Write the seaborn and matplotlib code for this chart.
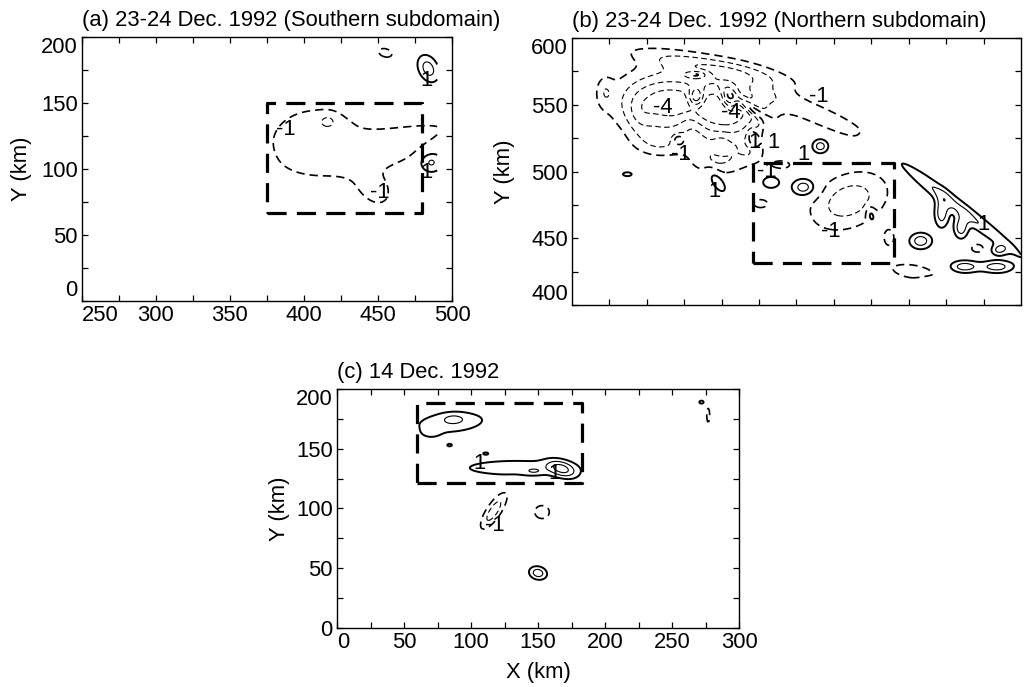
import numpy as np
import matplotlib
matplotlib.use("Agg")
import matplotlib.pyplot as plt
import seaborn as sns

sns.set_theme(style="ticks")
plt.rcParams['font.family'] = ['Liberation Sans', 'DejaVu Sans']
for k in ['text.color', 'axes.labelcolor', 'xtick.color', 'ytick.color', 'axes.edgecolor']:
    plt.rcParams[k] = 'black'

# ---------------- data ----------------
titles = ["(a) 23-24 Dec. 1992 (Southern subdomain)",
          "(b) 23-24 Dec. 1992 (Northern subdomain)",
          "(c) 14 Dec. 1992"]
neg_levels = [-4, -3, -2, -1]
pos_levels = [1, 2, 3, 4]

# panel (a) field features: centre x, centre y, width x, width y, angle, amplitude
a_cx = [409, 416, 465, 460, 448, 455, 484, 486]
a_cy = [120, 136, 124, 110, 85, 188, 176, 105]
a_sx = [33, 4, 30, 18, 8, 6, 5, 6]
a_sy = [27, 3.5, 6, 5, 12, 4, 8, 6]
a_an = [0, 0, 14, 20, 30, -20, 20, 0]
a_am = [-1.5, -1.2, -1.4, -1.3, -1.3, -1.3, 2.5, 2.2]
a_xlim = (250, 500)
a_ylim = (0, 200)
a_data_x = (250, 490)
a_box_x = [375, 480, 480, 375, 375]
a_box_y = [67, 67, 150, 150, 67]
a_lab_x = [388, 451, 483, 483]
a_lab_y = [130, 82, 167, 97]
a_lab_t = ["-1", "-1", "1", "1"]

# panel (b)
b_cx = [62, 106, 95, 170, 58, 98, 185, 126, 228, 212, 271, 22,
        45, 120, 140, 80, 100,
        83, 105, 83, 119, 132, 121, 71, 97, 37, 133, 155, 166, 200,
        256, 247, 260, 233, 285, 262, 284, 239]
b_cy = [552, 545, 578, 540, 522, 508, 478, 476, 425, 450, 442.5, 560,
        540, 515, 505, 535, 520,
        556, 555, 572.5, 548, 527, 525, 524, 493, 498, 492, 488, 519, 467,
        475, 469, 458, 448, 441, 428.7, 428.7, 418]
b_sx = [22, 18, 40, 35, 12, 14, 20, 6, 14, 4, 4, 4,
        6, 6, 8, 5, 4,
        3.5, 3.5, 5, 10, 2.5, 2.5, 3, 3, 3, 5, 6, 4, 2,
        46, 3.5, 3.5, 5.5, 4, 7, 8, 5]
b_sy = [16, 17, 6, 6, 8, 8, 14, 4, 5, 7, 3, 8,
        10, 6, 4, 8, 6,
        5, 6, 2, 2.5, 7, 5, 3, 7, 1.5, 4, 5, 4, 4,
        4, 8, 6, 4.5, 3, 3.5, 3.5, 1.8]
b_an = [0, 0, -12, -25, 0, 0, 30, 0, -10, 0, 0, 0,
        0, 0, 0, 20, 0,
        0, 10, 0, -40, 10, 10, 0, 30, 0, 0, 0, 0, 10,
        -41, 0, 0, 0, 0, 0, 0, 0]
b_am = [-4.5, -4.3, -2.2, -1.8, -1.6, -1.8, -2.6, -1.3, -1.6, -1.3, -1.6, -1.3,
        -0.8, -1.0, -1.2, 0.8, 0.7,
        3.0, 3.0, 1.8, 2.5, 1.8, 1.8, 1.6, 2.2, 1.6, 1.8, 2.8, 2.5, 2.5,
        2.2, 2.6, 2.6, 2.6, 2.0, 2.5, 2.5, 1.6]
b_xlim = (0, 300)
b_ylim = (400, 600)
b_data_x = (0, 300)
b_box_x = [120.7, 215, 215, 120.7, 120.7]
b_box_y = [431.5, 431.5, 506.4, 506.4, 431.5]
b_lab_x = [61, 106, 165, 73, 95, 122, 135, 130, 155, 173, 275]
b_lab_y = [548, 544, 556, 512.6, 485, 522, 522, 500, 513, 455, 460]
b_lab_t = ["-4", "-4", "-1", "-1", "1", "1", "1", "-1", "1", "-1", "1"]

# panel (c)
c_cx = [85, 87, 70, 84, 134, 147, 168, 111, 117, 153, 150, 277, 272]
c_cy = [172, 175, 163, 153, 134, 131, 133, 146, 98, 97, 46, 178, 189]
c_sx = [24, 6, 5, 2, 36, 5, 8, 2, 4, 6, 5, 1.5, 2]
c_sy = [8, 3, 3, 1.2, 6, 2, 4.5, 1, 12.5, 6, 4, 8, 1.5]
c_an = [5, 0, 0, 0, 0, 0, -25, 0, -30, 0, -20, 0, 0]
c_am = [1.6, 1.0, 0.8, 1.3, 1.6, 0.8, 2.6, 1.3, -2.6, -1.5, 2.6, -1.3, 1.4]
c_xlim = (0, 300)
c_ylim = (0, 200)
c_data_x = (0, 300)
c_box_x = [60, 183, 183, 60, 60]
c_box_y = [121, 121, 188, 188, 121]
c_lab_x = [106, 162, 118]
c_lab_y = [138, 129, 86]
c_lab_t = ["1", "1", "-1"]


def build_field(xr, yr, cx, cy, sx, sy, an, am, n=500):
    x = np.linspace(xr[0], xr[1], n)
    y = np.linspace(yr[0], yr[1], n)
    X, Y = np.meshgrid(x, y)
    Z = np.zeros_like(X)
    for x0, y0, wx, wy, ang, amp in zip(cx, cy, sx, sy, an, am):
        t = np.deg2rad(ang)
        dx, dy = X - x0, Y - y0
        u = dx * np.cos(t) + dy * np.sin(t)
        v = -dx * np.sin(t) + dy * np.cos(t)
        Z += amp * np.exp(-0.5 * ((u / wx) ** 2 + (v / wy) ** 2))
    return X, Y, Z


fig = plt.figure(figsize=(10.30, 6.87), dpi=100)
positions = [[0.0796, 0.5619, 0.3592, 0.3843],
             [0.5553, 0.5560, 0.4359, 0.3886],
             [0.3272, 0.0859, 0.3903, 0.3479]]

panels = [
    (a_cx, a_cy, a_sx, a_sy, a_an, a_am, a_xlim, a_ylim, a_data_x,
     a_box_x, a_box_y, a_lab_x, a_lab_y, a_lab_t),
    (b_cx, b_cy, b_sx, b_sy, b_an, b_am, b_xlim, b_ylim, b_data_x,
     b_box_x, b_box_y, b_lab_x, b_lab_y, b_lab_t),
    (c_cx, c_cy, c_sx, c_sy, c_an, c_am, c_xlim, c_ylim, c_data_x,
     c_box_x, c_box_y, c_lab_x, c_lab_y, c_lab_t),
]
ylab_x = [-0.135, -0.127, -0.117]
FS = 15.8
neg_style = (0, (5, 3))

for i, (cx, cy, sx, sy, an, am, xlim, ylim, dx_r, bx, by, lx, ly, lt) in enumerate(panels):
    ax = fig.add_axes(positions[i])
    X, Y, Z = build_field(dx_r, ylim, cx, cy, sx, sy, an, am)
    ax.contour(X, Y, Z, levels=neg_levels, colors='black',
               linestyles=[neg_style] * 4, linewidths=[0.8, 0.8, 0.8, 1.2])
    ax.contour(X, Y, Z, levels=pos_levels, colors='black',
               linestyles='solid', linewidths=[1.4, 0.8, 0.8, 0.8])
    sns.lineplot(x=bx, y=by, sort=False, estimator=None, ax=ax,
                 color='black', linewidth=2.3, linestyle=(0, (6, 3.2)))
    for tx, ty, tt in zip(lx, ly, lt):
        ax.text(tx, ty, tt, fontsize=FS, ha='center', va='center')
    ax.set_xlim(*xlim)
    ax.set_ylim(*ylim)
    ax.set_title(titles[i], loc='left', fontsize=FS, pad=8)
    ax.xaxis.set_major_locator(matplotlib.ticker.MultipleLocator(50))
    ax.xaxis.set_minor_locator(matplotlib.ticker.MultipleLocator(25))
    ax.yaxis.set_major_locator(matplotlib.ticker.MultipleLocator(50))
    ax.yaxis.set_minor_locator(matplotlib.ticker.MultipleLocator(25))
    ax.tick_params(which='both', direction='in', top=True, right=True,
                   length=4.5, width=0.9, labelsize=FS, pad=3, color='black')
    for s in ax.spines.values():
        s.set_linewidth(1.0)
        s.set_color('black')
    ax.set_ylabel("Y (km)", fontsize=FS)
    ax.yaxis.set_label_coords(ylab_x[i], 0.5)
    if i == 1:
        ax.set_xticks(np.arange(25, 300, 25))
        ax.set_xticklabels([])
        ax.xaxis.set_minor_locator(matplotlib.ticker.NullLocator())
    fig.canvas.draw()
    yl = ax.get_yticklabels()
    vis = [t for t in yl if ylim[0] <= t.get_position()[1] <= ylim[1]]
    if vis:
        vis[-1].set_va('top')
        if i < 2:
            vis[0].set_va('bottom')
    if i != 1:
        xl = [t for t in ax.get_xticklabels() if xlim[0] <= t.get_position()[0] <= xlim[1]]
        if xl:
            xl[0].set_ha('left')
    if i == 2:
        ax.set_xlabel("X (km)", fontsize=FS)
        ax.xaxis.set_label_coords(0.5, -0.142)
        ax.xaxis.label.set_va('top')

fig.savefig("out.png", dpi=100)
